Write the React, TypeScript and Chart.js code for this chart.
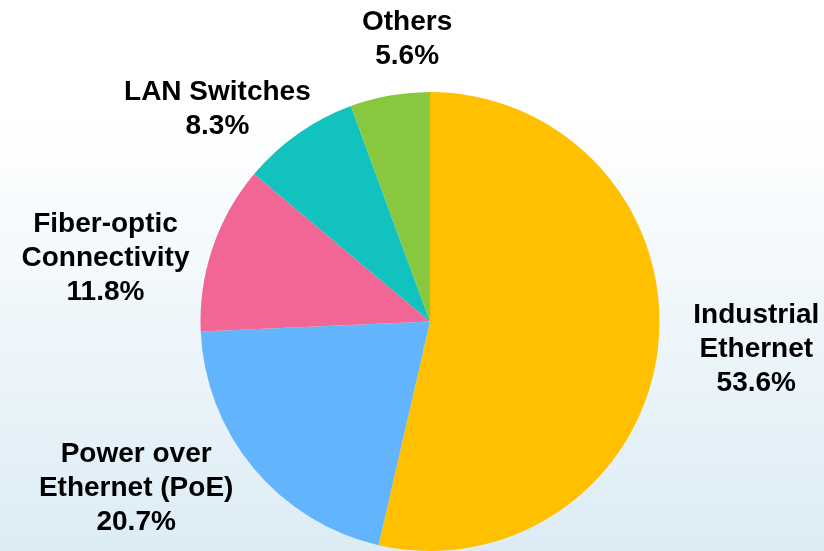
import React, { useEffect, useRef } from "react";
import { Chart, registerables } from "chart.js";

Chart.register(...registerables);

const categories: string[][] = [
  ["Industrial", "Ethernet"],
  ["Power over", "Ethernet (PoE)"],
  ["Fiber-optic", "Connectivity"],
  ["LAN Switches"],
  ["Others"],
];
const shares: number[] = [53.6, 20.7, 11.8, 8.3, 5.6];
const sliceColors: string[] = ["#FFC000", "#62B5FC", "#F26696", "#12C2BE", "#88C83E"];
// label placement relative to slice mid-angle (degrees) and radius factor
const labelAngleShift: number[] = [-2.1, 10.7, -7.2, -9.6, 5.5];
const labelRadiusFactor: number[] = [1.426, 1.465, 1.443, 1.317, 1.248];

const labelPlugin = {
  id: "outerLabels",
  afterDatasetsDraw(chart: any) {
    const ctx = chart.ctx;
    const meta = chart.getDatasetMeta(0);
    ctx.save();
    ctx.font = "bold 28px 'Liberation Sans', Arial, sans-serif";
    ctx.fillStyle = "#000000";
    ctx.textAlign = "center";
    ctx.textBaseline = "middle";
    const lineH = 34;
    meta.data.forEach((arc: any, i: number) => {
      const p = arc.getProps(["x", "y", "startAngle", "endAngle", "outerRadius"], true);
      const mid = (p.startAngle + p.endAngle) / 2 + (labelAngleShift[i] * Math.PI) / 180;
      const R = p.outerRadius * labelRadiusFactor[i];
      const cx = p.x + Math.cos(mid) * R;
      const cy = p.y + Math.sin(mid) * R + 3;
      const lines = [...categories[i], shares[i].toFixed(1) + "%"];
      const top = cy - ((lines.length - 1) * lineH) / 2;
      lines.forEach((t, k) => ctx.fillText(t, cx, top + k * lineH));
    });
    ctx.restore();
  },
};

export default function App() {
  const ref = useRef<HTMLCanvasElement>(null);
  useEffect(() => {
    document.body.style.margin = "0";
    const chart = new Chart(ref.current!, {
      type: "pie",
      data: {
        labels: categories.map((c) => c.join(" ")),
        datasets: [
          {
            data: shares,
            backgroundColor: sliceColors,
            borderWidth: 0,
          },
        ],
      },
      options: {
        responsive: false,
        animation: false,
        layout: { padding: { top: 92, bottom: -1, left: 36, right: 0 } },
        plugins: {
          legend: { display: false },
          tooltip: { enabled: false },
        },
      },
      plugins: [labelPlugin],
    });
    return () => chart.destroy();
  }, []);
  return (
    <div
      style={{
        position: "absolute",
        left: 0,
        top: 0,
        width: 824,
        height: 551,
        background: "linear-gradient(to bottom, #ffffff 0%, #ffffff 22%, #dcecf5 100%)",
        overflow: "hidden",
      }}
    >
      <canvas ref={ref} width={824} height={551} style={{ display: "block" }} />
    </div>
  );
}
